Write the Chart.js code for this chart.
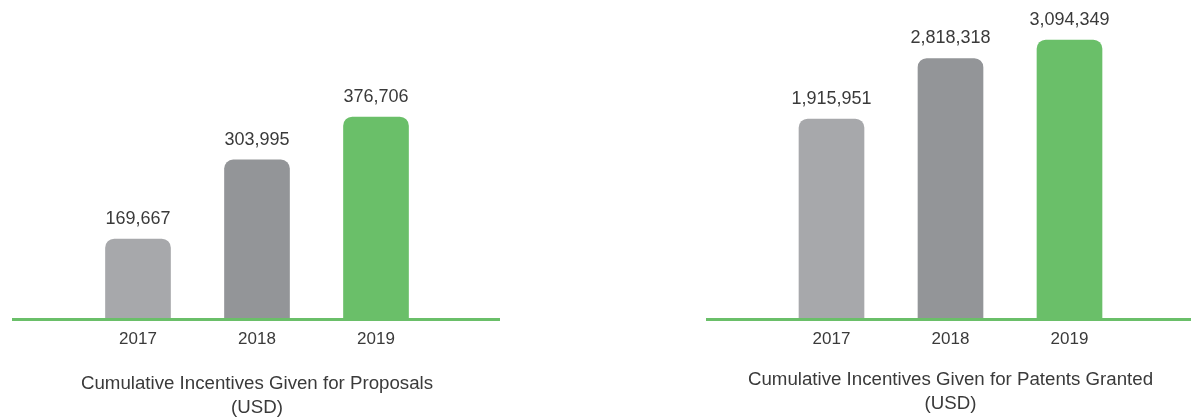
<!DOCTYPE html>
<html>
<head>
<meta charset="utf-8">
<script src="https://cdn.jsdelivr.net/npm/chart.js@4.4.0/dist/chart.umd.min.js"></script>
<style>
	body { margin: 0; background: #fff; }
	.box { position: absolute; top: 0; width: 596px; height: 420px; }
</style>
</head>
<body>
<div class="box" style="left:0"><canvas id="proposals"></canvas></div>
<div class="box" style="left:595px"><canvas id="patents"></canvas></div>
<script>
var years = ['2017', '2018', '2019'];
var proposals = [169667, 303995, 376706];
var patents = [1915951, 2818318, 3094349];
var barColors = ['#a7a8ab', '#939598', '#6abf69'];
var proposalsTitle = ['Cumulative Incentives Given for Proposals', '(USD)'];
var patentsTitle = ['Cumulative Incentives Given for Patents Granted', '(USD)'];

var FONT = '"Liberation Sans", Arial, sans-serif';

// green base line, values over the bars and the caption under the axis
var decoPlugin = {
	id: 'deco',
	afterDatasetsDraw: function(chart, args, opts) {
		var ctx = chart.ctx;
		var area = chart.chartArea;
		ctx.save();
		ctx.strokeStyle = '#6abf69';
		ctx.lineWidth = 3;
		ctx.beginPath();
		ctx.moveTo(area.left - opts.extendLeft, area.bottom + 1.5);
		ctx.lineTo(area.right + opts.extendRight, area.bottom + 1.5);
		ctx.stroke();

		var meta = chart.getDatasetMeta(0);
		var data = chart.data.datasets[0].data;
		ctx.fillStyle = '#3a3a3a';
		ctx.font = '18px ' + FONT;
		ctx.textAlign = 'center';
		ctx.textBaseline = 'middle';
		meta.data.forEach(function(bar, i) {
			ctx.fillText(data[i].toLocaleString('en-US'), bar.x, bar.y - 20);
		});

		ctx.font = '18.7px ' + FONT;
		var cx = (area.left + area.right) / 2;
		opts.caption.forEach(function(line, i) {
			ctx.fillText(line, cx, area.bottom + opts.captionTop + i * 24);
		});
		ctx.restore();
	}
};

function makeChart(id, values, caption, yMin, yMax, pad, captionTop, extL, extR) {
	return new Chart(document.getElementById(id), {
		type: 'bar',
		data: {
			labels: years,
			datasets: [{
				data: values,
				backgroundColor: barColors,
				borderRadius: { topLeft: 9, topRight: 9 },
				borderSkipped: 'bottom',
				barThickness: 65,
				base: yMin
			}]
		},
		options: {
			responsive: true,
			maintainAspectRatio: false,
			animation: false,
			layout: { padding: pad },
			plugins: {
				legend: { display: false },
				tooltip: { enabled: false },
				deco: { extendLeft: extL, extendRight: extR, caption: caption, captionTop: captionTop }
			},
			scales: {
				x: {
					grid: { display: false, drawTicks: false },
					border: { display: false },
					ticks: { color: '#3a3a3a', padding: 11, font: { family: FONT, size: 17 } }
				},
				y: {
					display: false,
					min: yMin,
					max: yMax
				}
			}
		},
		plugins: [decoPlugin]
	});
}

makeChart('proposals', proposals, proposalsTitle,
	35600, 541300,
	{ left: 78.5, right: 160.5, top: 20, bottom: 59.6 },
	66, 66.5, 64.5);

makeChart('patents', patents, patentsTitle,
	-1052400, 3392700,
	{ left: 177, right: 62, top: 20, bottom: 59.6 },
	62, 66, 62);
</script>
</body>
</html>
